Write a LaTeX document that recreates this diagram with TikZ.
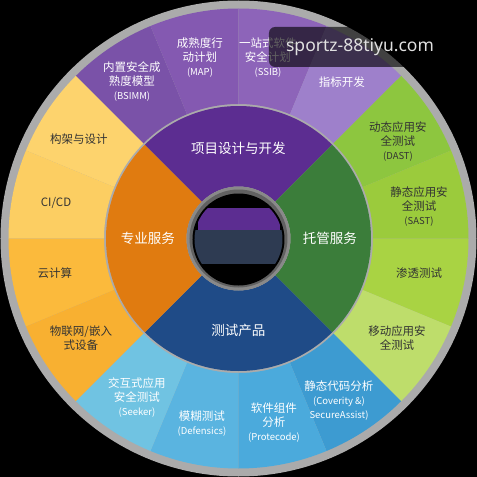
\documentclass[tikz,border=0pt]{standalone}
\usepackage{fontspec}
\setmainfont{Noto Sans CJK SC}
\newfontfamily\wmfont{Noto Sans}
\definecolor{ringgray}{HTML}{ABABAB}
\definecolor{pA}{HTML}{7A52A8}
\definecolor{pB}{HTML}{8459B1}
\definecolor{pC}{HTML}{8D64B9}
\definecolor{pD}{HTML}{9E80CB}
\definecolor{pIn}{HTML}{5C2D91}
\definecolor{yA}{HTML}{FDD36D}
\definecolor{yB}{HTML}{FCCE62}
\definecolor{yC}{HTML}{FBBA3C}
\definecolor{yD}{HTML}{F8B031}
\definecolor{oIn}{HTML}{E07B10}
\definecolor{gA}{HTML}{8DC63F}
\definecolor{gB}{HTML}{9BCB3C}
\definecolor{gC}{HTML}{A9D343}
\definecolor{gD}{HTML}{BEDD6B}
\definecolor{gIn}{HTML}{3B7D3A}
\definecolor{bA}{HTML}{3D9BD1}
\definecolor{bB}{HTML}{4BAADC}
\definecolor{bC}{HTML}{5AB4E0}
\definecolor{bD}{HTML}{70C3E2}
\definecolor{bIn}{HTML}{1F4B87}
\definecolor{navy}{HTML}{2E3B52}
\definecolor{txtdark}{HTML}{333333}
\newcommand\pp[1]{{\fontsize{9.5}{14}\selectfont(#1)}}
\tikzset{
  lab/.style={align=center, font=\fontsize{11.5}{14}\selectfont, text=white, inner sep=0pt},
  labd/.style={lab, text=txtdark},
  inlab/.style={font=\fontsize{13.5}{16}\selectfont, text=white, inner sep=0pt},
}
\begin{document}
\begin{tikzpicture}[x=1pt,y=1pt]
\useasboundingbox (-238.5,-238.5) rectangle (238.5,238.5);
\fill[black] (-238.5,-238.5) rectangle (238.5,238.5);
\fill[ringgray] (0,0) circle[radius=238];
% outer segments
\foreach \a/\b/\c in {112.5/135/pA, 90/112.5/pB, 67.5/90/pC, 45/67.5/pD,
  22.5/45/gA, 0/22.5/gB, -22.5/0/gC, -45/-22.5/gD,
  -67.5/-45/bA, -90/-67.5/bB, -112.5/-90/bC, -135/-112.5/bD,
  135/157.5/yA, 157.5/180/yB, 180/202.5/yC, 202.5/225/yD}{
  \fill[\c] (\a:134.5) -- (\a:230) arc[start angle=\a, end angle=\b, radius=230]
    -- (\b:134.5) arc[start angle=\b, end angle=\a, radius=134.5] -- cycle;
}
% inner ring
\foreach \a/\b/\c in {45/135/pIn, -45/45/gIn, -135/-45/bIn, 135/225/oIn}{
  \fill[\c] (\a:52) -- (\a:132.5) arc[start angle=\a, end angle=\b, radius=132.5]
    -- (\b:52) arc[start angle=\b, end angle=\a, radius=52] -- cycle;
}
% centre
\fill[ringgray!80!black] (0,0) circle[radius=52];
\fill[black!62] (0,0) circle[radius=49];
\fill[black] (0,-1) circle[radius=46];
\begin{scope}
\clip (0,-1) circle[radius=44];
\fill[pIn] (-40,30.5) rectangle (42,8.5);
\fill[navy] (-48,8.5) rectangle (48,-25);
\end{scope}
% inner labels
\node[inlab] (n1) at (0,90.5) {项目设计与开发};
\node[inlab] (n2) at (-90.5,0) {专业服务};
\node[inlab] (n3) at (91.5,0) {托管服务};
\node[inlab] (n4) at (0,-91.5) {测试产品};
% outer labels
\node[lab] (o1) at (-106.5,156.5) {内置安全成\\熟度模型\\\pp{BSIMM}};
\node[lab] (o2) at (-38.5,180.5) {成熟度行\\动计划\\\pp{MAP}};
\node[lab] (o3) at (29.5,180.5) {一站式软件\\安全计划\\\pp{SSIB}};
\node[lab] (o4) at (103.5,156.5) {指标开发};
\node[labd] (o5) at (159.5,96.5) {动态应用安\\全测试\\\pp{DAST}};
\node[labd] (o6) at (180.5,31.5) {静态应用安\\全测试\\\pp{SAST}};
\node[labd] (o7) at (180.5,-34.5) {渗透测试};
\node[labd] (o8) at (158.5,-99.5) {移动应用安\\全测试};
\node[lab] (o9) at (100.5,-162.5) {静态代码分析\\\pp{Coverity \&}\\{\fontsize{9.5}{14}\selectfont SecureAssist)}};
\node[lab] (o10) at (35.5,-184.5) {软件组件\\分析\\\pp{Protecode}};
\node[lab] (o11) at (-36.5,-185.5) {模糊测试\\\pp{Defensics}};
\node[lab] (o12) at (-101.5,-159.5) {交互式应用\\安全测试\\\pp{Seeker}};
\node[labd] (o13) at (-157.5,-99.5) {物联网/嵌入\\式设备};
\node[labd] (o14) at (-183.5,-34.5) {云计算};
\node[labd] (o15) at (-182.5,35.5) {CI/CD};
\node[labd] (o16) at (-159.5,99.5) {构架与设计};
% watermark
\fill[black, opacity=0.62, rounded corners=6pt] (30.5,211.5) rectangle (211.5,171.5);
\node[text=white!88!black, font=\wmfont\fontsize{17.5}{20}\selectfont, inner sep=0pt] (wm) at (121.5,191.5) {sportz-88tiyu.com};
\end{tikzpicture}
\end{document}
